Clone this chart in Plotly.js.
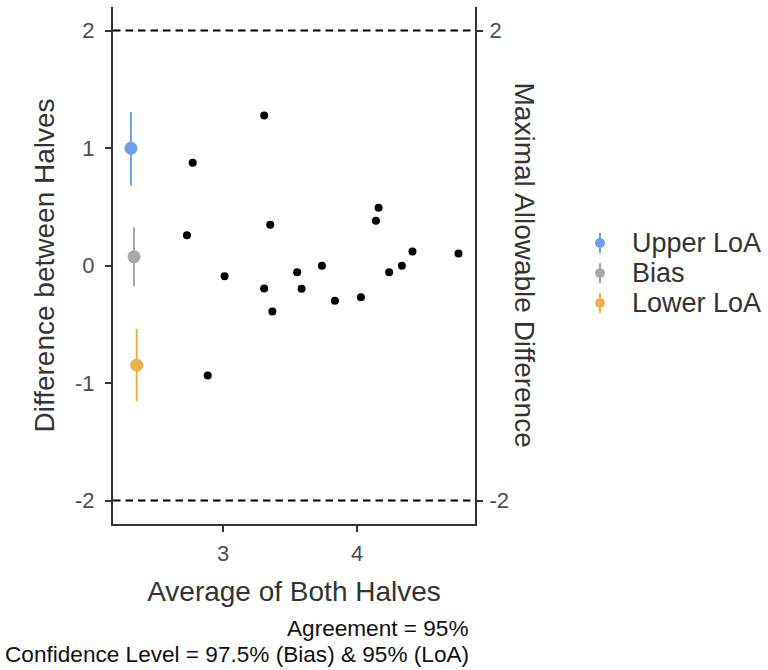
<!DOCTYPE html>
<html>
<head>
<meta charset="utf-8">
<script src="https://cdn.plot.ly/plotly-3.0.1.min.js"></script>
<style>html,body{margin:0;padding:0;background:#fff;}#chart{width:768px;height:670px;}</style>
</head>
<body>
<div id="chart"></div>
<script>
// Data points: average of both halves vs difference between halves
const avgHalves = [3.306, 2.772, 2.729, 3.351, 3.010, 3.306, 3.552, 3.367, 2.884, 4.160,
                   4.140, 4.413, 4.757, 3.737, 4.239, 4.334, 3.585, 3.834, 4.028];
const diffHalves = [1.277, 0.874, 0.258, 0.346, -0.091, -0.196, -0.057, -0.391, -0.936, 0.491,
                    0.380, 0.119, 0.102, -0.003, -0.057, -0.003, -0.198, -0.300, -0.270];

// Limits of agreement with confidence intervals
const statNames = ["Upper LoA", "Bias", "Lower LoA"];
const statX = [2.311, 2.334, 2.354];
const statEst = [0.998, 0.074, -0.848];
const statLower = [0.681, -0.176, -1.155];
const statUpper = [1.305, 0.326, -0.539];
const statColors = ["#6fa0ec", "#a8a8a8", "#e9b04d"];

// Maximal allowable difference
const maxAllowed = [2, -2];

const xTicks = [3, 4];
const yTicks = [2, 1, 0, -1, -2];

const FONT = "Arial, 'Liberation Sans', sans-serif";
const traces = [];

traces.push({
  type: "scatter", mode: "markers",
  x: avgHalves, y: diffHalves,
  marker: {color: "#000000", size: 8},
  showlegend: false, hoverinfo: "x+y"
});

for (let i = 0; i < statNames.length; i++) {
  traces.push({
    type: "scatter", mode: "markers",
    name: statNames[i], showlegend: false,
    x: [statX[i]], y: [statEst[i]],
    marker: {color: statColors[i], size: 13},
    error_y: {
      type: "data", symmetric: false,
      array: [statUpper[i] - statEst[i]],
      arrayminus: [statEst[i] - statLower[i]],
      color: statColors[i], thickness: 2, width: 0
    }
  });
}

// invisible trace to activate the right axis
traces.push({
  type: "scatter", mode: "markers", x: [avgHalves[0]], y: [maxAllowed[0]],
  yaxis: "y2", marker: {opacity: 0}, showlegend: false, hoverinfo: "skip"
});

const shapes = maxAllowed.map(v => ({
  type: "line", xref: "paper", x0: 0, x1: 1, yref: "y", y0: v, y1: v,
  line: {color: "#000000", width: 2, dash: "7.5px,5px"}
}));

// hand-built legend (point with vertical error bar)
const legX = 1.3453, legTextX = 1.428;
const legY = [0.5435, 0.4855, 0.4275];
const annotations = [];
for (let i = 0; i < statNames.length; i++) {
  shapes.push({
    type: "line", xref: "paper", yref: "paper",
    xsizemode: "pixel", ysizemode: "pixel", xanchor: legX, yanchor: legY[i],
    x0: 0, x1: 0, y0: -10, y1: 10,
    line: {color: statColors[i], width: 2}
  });
  shapes.push({
    type: "circle", xref: "paper", yref: "paper",
    xsizemode: "pixel", ysizemode: "pixel", xanchor: legX, yanchor: legY[i],
    x0: -5, x1: 5, y0: -5, y1: 5,
    fillcolor: statColors[i], line: {width: 0}
  });
  annotations.push({
    text: statNames[i], xref: "paper", yref: "paper", x: legTextX, y: legY[i],
    xanchor: "left", yanchor: "middle", showarrow: false,
    font: {size: 27, color: "#333333", family: FONT}
  });
}

annotations.push(
  {text: "Maximal Allowable Difference", textangle: 90, xref: "paper", yref: "paper",
   x: 1.138, y: 0.5, xanchor: "center", yanchor: "middle", showarrow: false,
   font: {size: 28, color: "#333333", family: FONT}},
  {text: "Agreement = 95%", xref: "paper", yref: "paper", x: 0.989, y: -0.203,
   xanchor: "right", yanchor: "middle", showarrow: false,
   font: {size: 22.6, color: "#111111", family: FONT}},
  {text: "Confidence Level = 97.5% (Bias) & 95% (LoA)", xref: "paper", yref: "paper", x: 0.989, y: -0.253,
   xanchor: "right", yanchor: "middle", showarrow: false,
   font: {size: 22.6, color: "#111111", family: FONT}}
);

const layout = {
  width: 768, height: 670,
  margin: {l: 113, r: 293, t: 7, b: 146, pad: 0},
  paper_bgcolor: "#ffffff", plot_bgcolor: "#ffffff",
  font: {family: FONT, color: "#333333"},
  showlegend: false,
  xaxis: {
    range: [2.177, 4.88], tickvals: xTicks, ticktext: xTicks.map(String),
    showgrid: false, zeroline: false,
    showline: true, linecolor: "#333333", linewidth: 2,
    ticks: "outside", ticklen: 6, tickwidth: 2, tickcolor: "#333333",
    ticklabelstandoff: 3,
    tickfont: {size: 22, color: "#4d4d4d", family: FONT},
    title: {text: "Average of Both Halves", font: {size: 28, color: "#333333", family: FONT}, standoff: 16}
  },
  yaxis: {
    range: [-2.2, 2.2], tickvals: yTicks, ticktext: yTicks.map(String),
    showgrid: false, zeroline: false,
    showline: true, linecolor: "#333333", linewidth: 2,
    ticks: "outside", ticklen: 6, tickwidth: 2, tickcolor: "#333333",
    ticklabelstandoff: 6,
    tickfont: {size: 22, color: "#4d4d4d", family: FONT},
    title: {text: "Difference between Halves", font: {size: 28, color: "#333333", family: FONT}, standoff: 12}
  },
  yaxis2: {
    overlaying: "y", side: "right", anchor: "x",
    range: [-2.2, 2.2], tickvals: maxAllowed, ticktext: maxAllowed.map(String),
    showgrid: false, zeroline: false,
    showline: true, linecolor: "#333333", linewidth: 2,
    ticks: "outside", ticklen: 6, tickwidth: 2, tickcolor: "#333333",
    ticklabelstandoff: 2,
    tickfont: {size: 22, color: "#4d4d4d", family: FONT}
  },
  shapes: shapes,
  annotations: annotations
};

Plotly.newPlot("chart", traces, layout, {displayModeBar: false, staticPlot: true});
</script>
</body>
</html>
